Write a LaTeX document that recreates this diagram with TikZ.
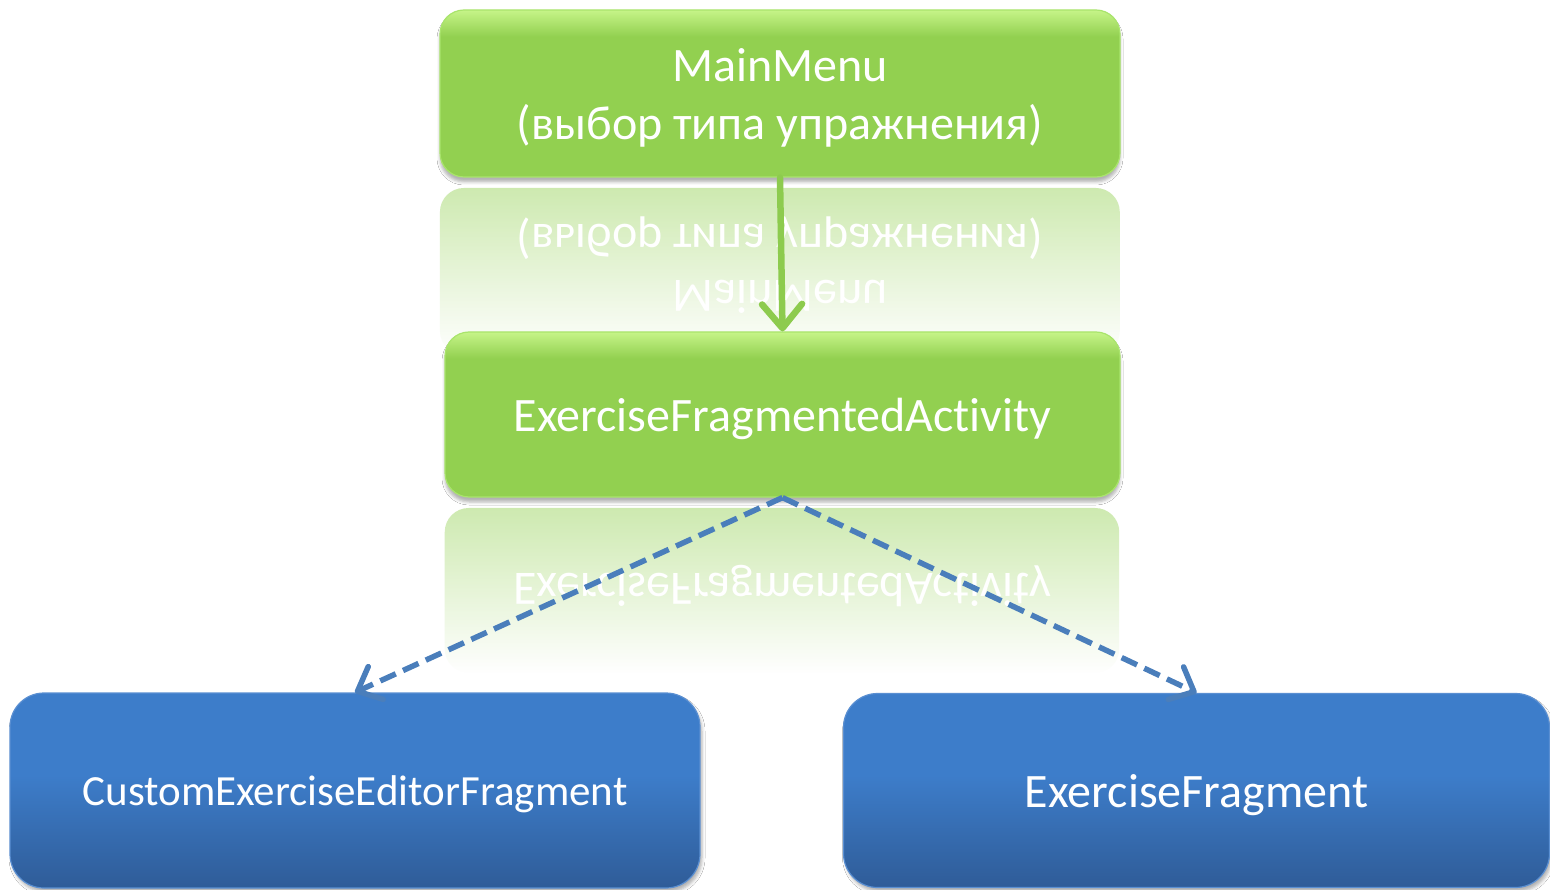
\documentclass[tikz,border=0pt]{standalone}
\usepackage{fontspec}
\setmainfont{Carlito}[Ligatures=NoCommon]
\usetikzlibrary{arrows.meta,shadows.blur,fadings}

\definecolor{gmain}{HTML}{92D050}
\definecolor{glight}{HTML}{C6F488}
\definecolor{gedge}{HTML}{A9E46C}
\definecolor{bTop}{HTML}{3D7DCA}
\definecolor{bBot}{HTML}{2F5C98}
\definecolor{bedge}{HTML}{5A8FD2}
\definecolor{linkblue}{HTML}{4A7EBB}
\definecolor{linkgreen}{HTML}{8DCB4E}

% fills of the boxes: a light band along the top of the green ones,
% a darkening toward the bottom for the blue ones
\pgfdeclareverticalshading{greenbar}{100bp}{color(0bp)=(gmain); color(25bp)=(gmain); color(67bp)=(gmain); color(75bp)=(glight); color(100bp)=(glight)}
\pgfdeclareverticalshading{bluebar}{100bp}{color(0bp)=(bBot); color(25bp)=(bBot); color(54bp)=(bTop); color(100bp)=(bTop)}

% mirror images fade out downward
\tikzfading[name=reflfade, top color=transparent!55, bottom color=transparent!100]

\tikzset{
  big font/.style={font=\fontsize{48}{58}\selectfont},
  small font/.style={font=\fontsize{43}{52}\selectfont},
  greenbox/.style={rectangle, rounded corners=24pt, shading=greenbar,
    draw=gedge, line width=1.2pt, text=white, big font, align=center, text depth=0pt,
    blur shadow={shadow xshift=0pt, shadow yshift=-5pt, shadow blur radius=3pt, shadow opacity=30}},
  bluebox/.style={rectangle, rounded corners=34pt, shading=bluebar,
    draw=bedge, line width=1.2pt, text=white, align=center, text depth=0pt,
    blur shadow={shadow xshift=2pt, shadow yshift=-4pt, shadow blur radius=3pt, shadow opacity=30}},
  mirror/.style={text=white, big font, inner sep=0pt},
  flow/.style={draw=linkgreen, line width=6.5pt, line cap=round,
    -{Straight Barb[length=24pt, width=40pt, line cap=round, line join=round]}},
  uses/.style={draw=linkblue, line width=5.5pt, dash pattern=on 17pt off 8pt,
    -{Straight Barb[length=20pt, width=36pt, line cap=round, line join=round]}},
}

\begin{document}
\begin{tikzpicture}[x=1pt, y=-1pt]
\useasboundingbox (0,0) rectangle (1550,890);
\fill[white] (0,0) rectangle (1550,890);

% mirror images under the two green boxes
\fill[gmain, path fading=reflfade, rounded corners=24pt] (440,188) rectangle (1120,355);
\node[mirror] (mmr1) at (780,238) {\scalebox{1}[-1]{(выбор типа упражнения)}};
\node[mirror] (mmr2) at (780,297) {\scalebox{1}[-1]{MainMenu}};

\fill[gmain, path fading=reflfade, rounded corners=24pt] (445,508) rectangle (1120,673);
\node[mirror] (efar) at (782,586) {\scalebox{1}[-1]{ExerciseFragmentedActivity}};

% boxes
\node[greenbox, minimum width=680pt, minimum height=167pt] (mm) at (780,93.5)
  {MainMenu\\(выбор типа упражнения)};
\node[greenbox, minimum width=675pt, minimum height=165pt] (efa) at (782.5,414.5)
  {ExerciseFragmentedActivity};
\node[bluebox, small font, minimum width=690pt, minimum height=195pt] (cef) at (355,790.5)
  {CustomExerciseEditorFragment};
\node[bluebox, big font, minimum width=706pt, minimum height=194pt] (ef) at (1196.5,790.5)
  {ExerciseFragment};

% connectors
\draw[flow] (mm.south) -- (efa.north);
\draw[uses] (efa.south) -- (cef.north);
\draw[uses] (efa.south) -- (ef.north);
\end{tikzpicture}
\end{document}
